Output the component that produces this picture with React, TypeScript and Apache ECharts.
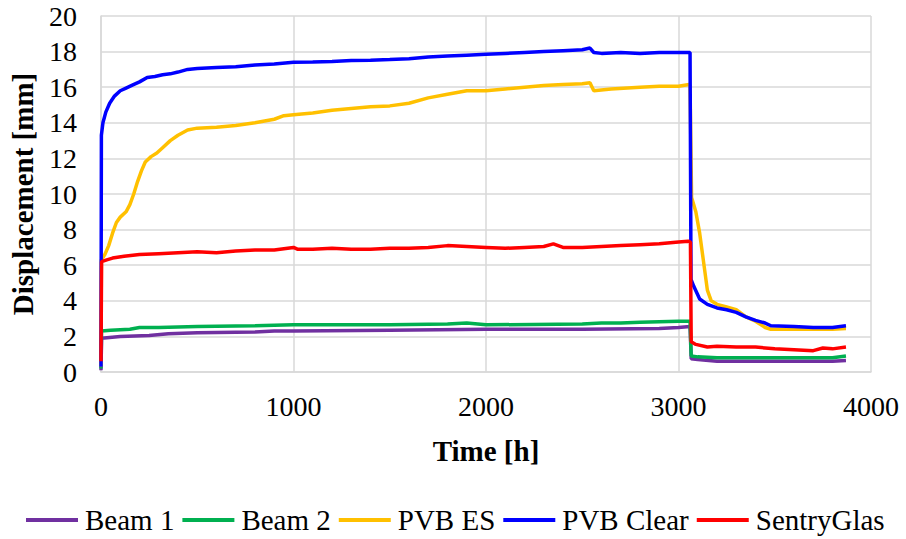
import React, { useEffect, useRef } from "react";
import * as echarts from "echarts";

const seriesNames = ["Beam 1", "Beam 2", "PVB ES", "PVB Clear", "SentryGlas"];
const seriesColors = ["#7030A0", "#00B050", "#FFC000", "#0000FF", "#FF0000"];

const beam1: [number, number][] = [
  [0, 0.1], [3, 1.9], [100, 2.0], [250, 2.05], [350, 2.15], [500, 2.2], [800, 2.25], [900, 2.3],
  [1000, 2.3], [1500, 2.35], [2000, 2.4], [2500, 2.4], [2900, 2.45], [3000, 2.5], [3060, 2.55],
  [3066, 0.75], [3100, 0.7], [3200, 0.6], [3400, 0.6], [3600, 0.6], [3800, 0.6], [3870, 0.65],
];

const beam2: [number, number][] = [
  [0, 0.2], [3, 2.3], [50, 2.35], [150, 2.4], [200, 2.5], [300, 2.5], [500, 2.55], [800, 2.6],
  [1000, 2.65], [1200, 2.65], [1500, 2.65], [1800, 2.7], [1900, 2.75], [2000, 2.65], [2500, 2.7],
  [2600, 2.75], [2700, 2.75], [2800, 2.8], [3000, 2.85], [3060, 2.85], [3066, 0.9], [3100, 0.85],
  [3200, 0.8], [3400, 0.8], [3600, 0.8], [3800, 0.8], [3870, 0.9],
];

const pvbEs: [number, number][] = [
  [0, 0.3], [2, 6.3], [20, 6.6], [40, 7.1], [60, 7.8], [80, 8.4], [100, 8.7], [130, 9.0], [150, 9.4],
  [170, 10.0], [190, 10.7], [210, 11.3], [230, 11.8], [260, 12.1], [290, 12.3], [320, 12.6],
  [360, 13.0], [400, 13.3], [450, 13.6], [500, 13.7], [600, 13.75], [700, 13.85], [800, 14.0],
  [900, 14.2], [950, 14.4], [1000, 14.45], [1100, 14.55], [1200, 14.7], [1300, 14.8], [1400, 14.9],
  [1500, 14.95], [1600, 15.1], [1700, 15.4], [1800, 15.6], [1900, 15.8], [2000, 15.8], [2100, 15.9],
  [2200, 16.0], [2300, 16.1], [2400, 16.15], [2500, 16.2], [2540, 16.25], [2560, 15.8], [2650, 15.9],
  [2800, 16.0], [2900, 16.05], [3000, 16.05], [3055, 16.15], [3060, 16.1], [3068, 9.8], [3090, 9.0],
  [3110, 7.8], [3130, 6.2], [3150, 4.6], [3170, 4.0], [3200, 3.8], [3250, 3.65], [3300, 3.5],
  [3350, 3.1], [3400, 2.85], [3450, 2.5], [3480, 2.4], [3600, 2.4], [3700, 2.4], [3800, 2.4], [3870, 2.45],
];

const pvbClear: [number, number][] = [
  [0, 0.3], [2, 13.3], [10, 14.0], [25, 14.6], [45, 15.1], [70, 15.5], [100, 15.8], [130, 15.95],
  [160, 16.1], [200, 16.3], [240, 16.55], [280, 16.6], [320, 16.7], [360, 16.75], [400, 16.85],
  [450, 17.0], [500, 17.05], [600, 17.1], [700, 17.15], [800, 17.25], [900, 17.3], [1000, 17.4],
  [1100, 17.42], [1200, 17.45], [1300, 17.5], [1400, 17.52], [1500, 17.55], [1600, 17.6], [1700, 17.7],
  [1800, 17.75], [1900, 17.8], [2000, 17.85], [2100, 17.9], [2200, 17.95], [2300, 18.0], [2400, 18.05],
  [2500, 18.1], [2540, 18.2], [2560, 17.95], [2600, 17.9], [2700, 17.95], [2800, 17.9], [2900, 17.95],
  [3000, 17.95], [3060, 17.95], [3065, 5.2], [3080, 4.8], [3110, 4.1], [3150, 3.8], [3200, 3.6],
  [3250, 3.5], [3300, 3.35], [3350, 3.1], [3400, 2.9], [3450, 2.75], [3480, 2.6], [3600, 2.55],
  [3700, 2.5], [3800, 2.5], [3870, 2.6],
];

const sentryGlas: [number, number][] = [
  [0, 0.6], [3, 6.2], [30, 6.3], [60, 6.4], [120, 6.5], [200, 6.6], [300, 6.65], [400, 6.7], [500, 6.75],
  [600, 6.7], [700, 6.8], [800, 6.85], [900, 6.85], [1000, 7.0], [1020, 6.9], [1100, 6.9], [1200, 6.95],
  [1300, 6.9], [1400, 6.9], [1500, 6.95], [1600, 6.95], [1700, 7.0], [1800, 7.1], [1900, 7.05],
  [2000, 7.0], [2100, 6.95], [2200, 7.0], [2300, 7.05], [2350, 7.2], [2400, 7.0], [2500, 7.0],
  [2600, 7.05], [2700, 7.1], [2800, 7.15], [2900, 7.2], [3000, 7.3], [3050, 7.35], [3062, 7.3],
  [3066, 1.7], [3090, 1.55], [3150, 1.4], [3200, 1.45], [3300, 1.4], [3400, 1.4], [3500, 1.3],
  [3600, 1.25], [3700, 1.2], [3750, 1.35], [3800, 1.3], [3870, 1.4],
];

const seriesData = [beam1, beam2, pvbEs, pvbClear, sentryGlas];

const FONT = "'Liberation Serif', 'Times New Roman', serif";

export default function App() {
  const ref = useRef<HTMLDivElement>(null);
  useEffect(() => {
    if (!ref.current) return;
    const chart = echarts.init(ref.current, undefined, { renderer: "svg" });
    chart.setOption({
      animation: false,
      backgroundColor: "#ffffff",
      textStyle: { fontFamily: FONT, color: "#000" },
      grid: { left: 100, right: 35, top: 16, bottom: 167, containLabel: false },
      legend: {
        top: 504,
        left: 26,
        icon: "rect",
        itemWidth: 52,
        itemHeight: 4,
        itemGap: 8,
        padding: 0,
        textStyle: { fontFamily: FONT, fontSize: 29, color: "#000", lineHeight: 32, padding: [0, 0, 0, 2] },
        data: seriesNames,
      },
      xAxis: {
        type: "value",
        min: 0,
        max: 4000,
        interval: 1000,
        name: "Time [h]",
        nameLocation: "middle",
        nameGap: 64,
        nameTextStyle: { fontFamily: FONT, fontSize: 29, fontWeight: "bold", color: "#000" },
        axisLine: { show: true, lineStyle: { color: "#d9d9d9", width: 1.5 } },
        axisTick: { show: false },
        axisLabel: { fontFamily: FONT, fontSize: 28, color: "#000", margin: 20, formatter: (v: number) => String(v) },
        splitLine: { show: true, lineStyle: { color: "#d9d9d9", width: 1.5 } },
      },
      yAxis: {
        type: "value",
        min: 0,
        max: 20,
        interval: 2,
        name: "Displacement [mm]",
        nameLocation: "middle",
        nameGap: 64,
        nameTextStyle: { fontFamily: FONT, fontSize: 29, fontWeight: "bold", color: "#000" },
        axisLine: { show: true, lineStyle: { color: "#d9d9d9", width: 1.5 } },
        axisTick: { show: false },
        axisLabel: { fontFamily: FONT, fontSize: 28, color: "#000", margin: 24, formatter: (v: number) => String(v) },
        splitLine: { show: true, lineStyle: { color: "#d9d9d9", width: 1.5 } },
      },
      series: seriesNames.map((name, i) => ({
        name,
        type: "line",
        data: seriesData[i],
        showSymbol: false,
        symbol: "none",
        color: seriesColors[i],
        lineStyle: { color: seriesColors[i], width: 3.5 },
      })),
    });
    return () => chart.dispose();
  }, []);
  return (
    <div
      ref={ref}
      style={{ position: "fixed", left: 0, top: 0, width: 906, height: 539, background: "#fff" }}
    />
  );
}
